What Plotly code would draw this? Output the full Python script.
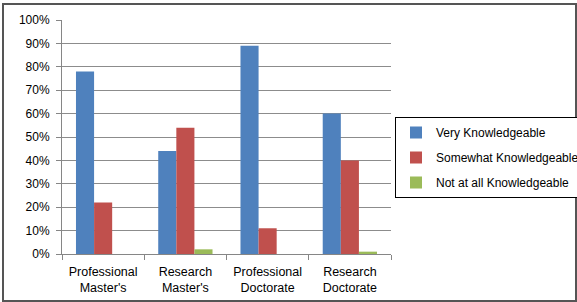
import plotly.graph_objects as go

categories = ["Professional<br>Master's", "Research<br>Master's", "Professional<br>Doctorate", "Research<br>Doctorate"]
series_names = ["Very Knowledgeable", "Somewhat Knowledgeable", "Not at all Knowledgeable"]
very = [78, 44, 89, 60]
somewhat = [22, 54, 11, 40]
not_at_all = [0, 2, 0, 1]
tick_vals = [0, 10, 20, 30, 40, 50, 60, 70, 80, 90, 100]
tick_text = [f"{v}%" for v in tick_vals]

colors = ["#4F81BD", "#C0504D", "#9BBB59"]
values = [very, somewhat, not_at_all]

fig = go.Figure()
for i, (name, vals) in enumerate(zip(series_names, values)):
    fig.add_trace(go.Bar(x=categories, y=vals, name=name, marker_color=colors[i],
                         marker_line_width=0, legendgroup=f"g{i}"))

W, H = 577, 302
L, R, T, B = 62, 391, 20, 254
pw, ph = R - L, B - T

def px(x):
    return (x - L) / pw

def py(y):
    return (B - y) / ph

fig.update_layout(
    width=W, height=H,
    margin=dict(l=L, r=W - R, t=T, b=H - B, autoexpand=False),
    paper_bgcolor="white", plot_bgcolor="white",
    barmode="group", bargap=0.34, bargroupgap=0,
    font=dict(family="Liberation Sans, Arial, sans-serif", size=12, color="#000000"),
    xaxis=dict(showline=True, linecolor="#868686", linewidth=1, ticks="outside",
               tickcolor="#868686", ticklen=5, showgrid=False, tickson="boundaries",
               tickangle=0, tickfont=dict(size=12.5), automargin=False,
               ticklabelstandoff=6),
    yaxis=dict(range=[0, 100], tickvals=tick_vals, ticktext=tick_text,
               showline=True, linecolor="#868686", linewidth=1, ticks="outside",
               tickcolor="#868686", ticklen=5, showgrid=True, gridcolor="#8c8c8c",
               gridwidth=1, zeroline=False, tickfont=dict(size=12), automargin=False,
               ticklabelstandoff=4),
    legend=dict(xref="container", yref="container", x=395 / W, y=1 - 117 / H,
                xanchor="left", yanchor="top",
                bordercolor="#000000", borderwidth=1, bgcolor="white",
                traceorder="grouped", tracegroupgap=6, font=dict(size=12),
                itemwidth=30),
    showlegend=True,
    shapes=[
        dict(type="rect", xref="paper", yref="paper",
             x0=px(3), x1=px(576), y0=py(4), y1=py(301),
             line=dict(color="#555555", width=2), fillcolor="rgba(0,0,0,0)"),
    ],
)

fig.write_html("out.html", config={"displayModeBar": False},
               post_script="document.body.style.margin='0';")
